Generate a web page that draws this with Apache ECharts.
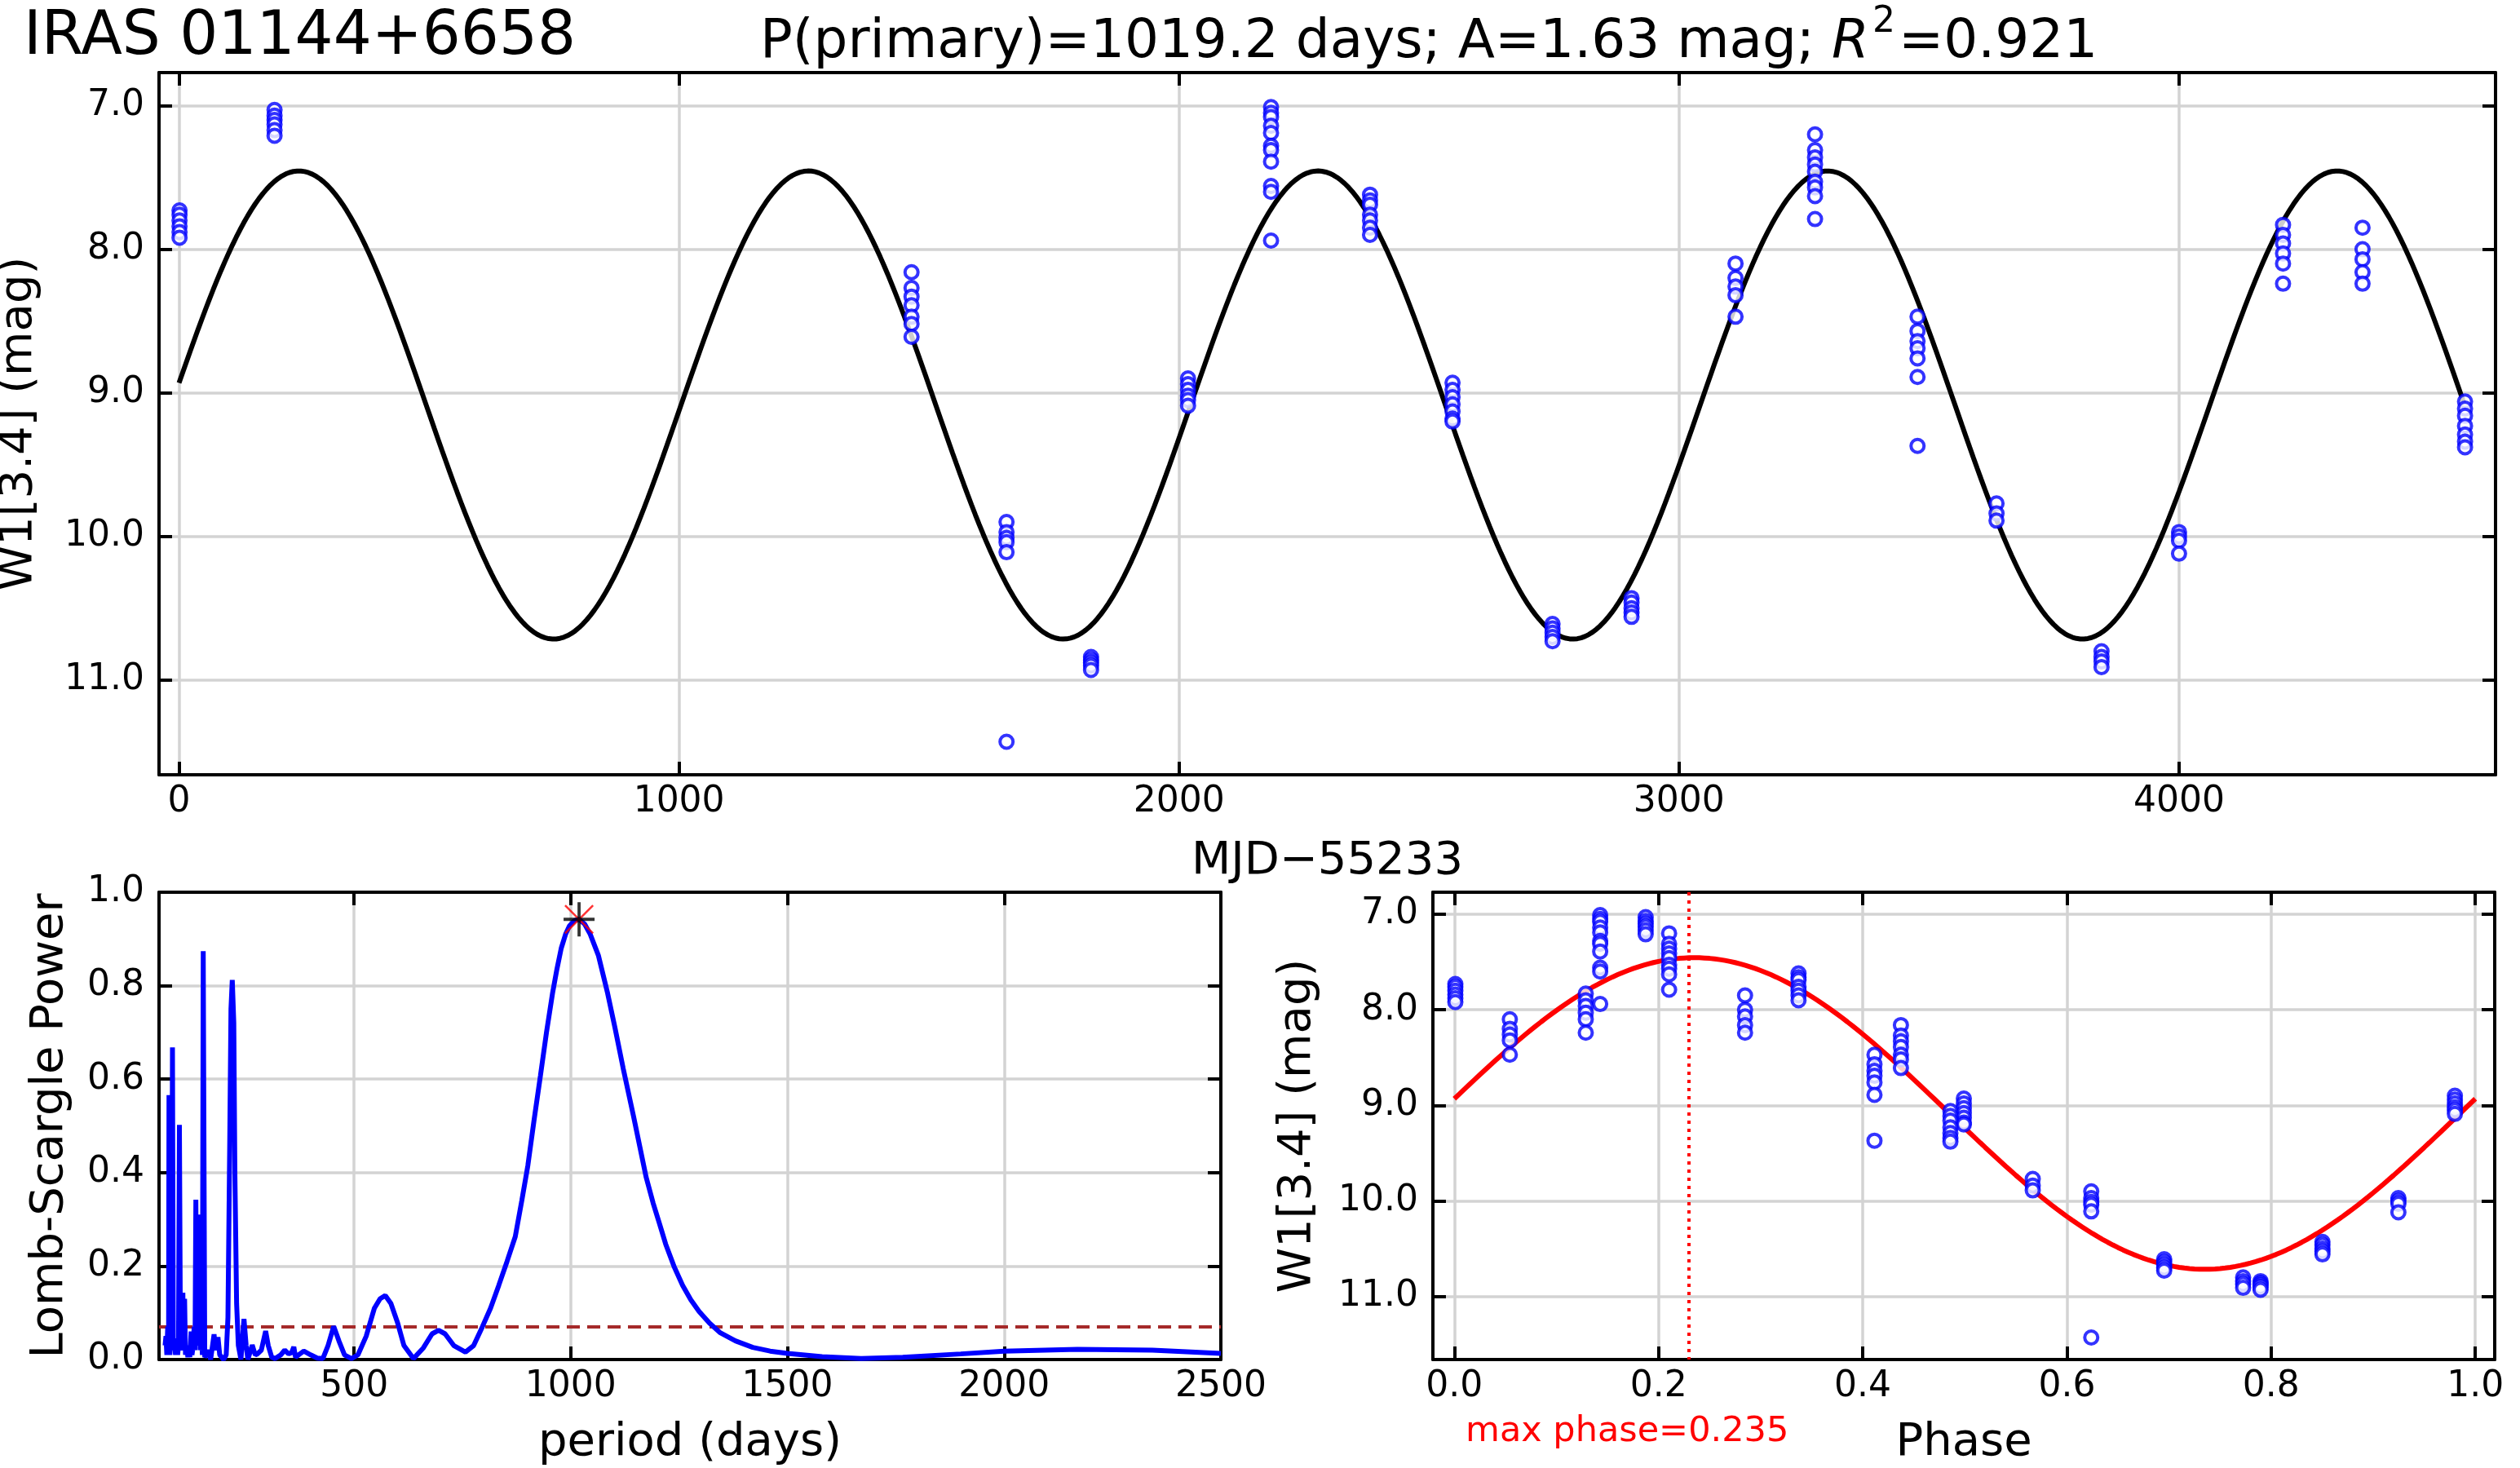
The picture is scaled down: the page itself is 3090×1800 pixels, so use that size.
<!DOCTYPE html>
<html>
<head>
<meta charset="utf-8">
<title>IRAS 01144+6658 light curve</title>
<style type="text/css">
html,body{margin:0;padding:0;background:#fff;}
#main{width:3090px;height:1800px;}
</style>
<script type="text/javascript" src="https://cdn.jsdelivr.net/npm/echarts@6.0.0/dist/echarts.min.js"></script>
</head>
<body>
<div id="main"></div>
<script type="text/javascript">
// fit parameters (from the title)
var period = 1019.2;
var amp = 1.63;
var meanMag = 9.085;
var maxPhase = 0.235;

// WISE epochs (MJD-55233) and the W1 magnitudes measured at each epoch
var epochT = [1, 191, 1465, 1655, 1824, 2018, 2184, 2382, 2547, 2747,
              2905, 3113, 3272, 3477, 3635, 3845, 4000, 4208, 4367, 4572];
var epochMags = [
  [7.73, 7.76, 7.80, 7.84, 7.88, 7.92],
  [7.03, 7.07, 7.10, 7.13, 7.17, 7.21],
  [8.16, 8.27, 8.33, 8.39, 8.47, 8.52, 8.61],
  [9.90, 9.97, 10.01, 10.04, 10.11, 11.43],
  [10.84, 10.86, 10.88, 10.90, 10.93],
  [8.90, 8.94, 8.98, 9.02, 9.05, 9.09],
  [7.01, 7.05, 7.08, 7.14, 7.19, 7.28, 7.31, 7.39, 7.56, 7.60, 7.94],
  [7.62, 7.66, 7.69, 7.76, 7.80, 7.85, 7.90],
  [8.93, 8.98, 9.03, 9.08, 9.13, 9.18, 9.20],
  [10.61, 10.64, 10.67, 10.70, 10.73],
  [10.43, 10.46, 10.50, 10.53, 10.56],
  [8.10, 8.20, 8.26, 8.32, 8.47],
  [7.20, 7.31, 7.36, 7.41, 7.46, 7.53, 7.57, 7.63, 7.79],
  [8.47, 8.57, 8.64, 8.69, 8.76, 8.89, 9.37],
  [9.77, 9.84, 9.89],
  [10.80, 10.84, 10.87, 10.91],
  [9.97, 10.00, 10.03, 10.12],
  [7.83, 7.90, 7.96, 8.03, 8.10, 8.24],
  [7.85, 8.00, 8.07, 8.16, 8.24],
  [9.06, 9.11, 9.16, 9.23, 9.29, 9.34, 9.38]
];

// Lomb-Scargle periodogram
var lsPeriod = [64, 66, 68, 70, 72, 73, 75, 77, 79, 81, 83, 85, 88, 90, 93, 95, 97, 99.5, 102, 105,
  106.5, 109, 111, 114, 116.5, 119, 121, 124, 126, 129, 131, 133, 135, 137, 139, 142, 145, 148, 150, 152,
  155.5, 159, 164, 169, 177, 180, 186, 190, 199, 205, 209, 213, 216, 219, 222.5, 225, 229, 233, 239, 246,
  251, 255, 265, 272, 277, 286, 296, 302, 310, 318, 331, 340, 349, 356, 361, 365, 375, 384, 400, 415,
  428, 440, 453, 465, 478, 494, 509, 528, 547, 560, 572, 585, 600, 615, 637, 660, 680, 695, 710, 730,
  757, 776, 796, 815, 834, 853, 872, 887, 901, 915, 930, 944, 958, 968, 978, 988, 997, 1008, 1019, 1032,
  1045, 1064, 1085, 1102, 1121, 1145, 1174, 1190, 1205, 1219, 1238, 1258, 1277, 1296, 1320, 1344, 1380, 1420,
  1460, 1500, 1580, 1670, 1766, 1900, 2000, 2169, 2342, 2500];
var lsPower = [0.03, 0.05, 0.01, 0.07, 0.02, 0.566, 0.01, 0.05, 0.02, 0.668, 0.02, 0.045, 0.01, 0.04, 0.01, 0.03, 0.502, 0.02, 0.04, 0.143,
  0.03, 0.13, 0.01, 0.03, 0.005, 0.03, 0.005, 0.06, 0.01, 0.03, 0.07, 0.02, 0.342, 0.03, 0.08, 0.31, 0.02, 0.05, 0.01, 0.874,
  0.005, 0.01, 0.02, 0.0, 0.054, 0.02, 0.048, 0.01, 0.0, 0.01, 0.09, 0.45, 0.75, 0.812, 0.72, 0.4, 0.12, 0.03, 0.0, 0.087,
  0.03, 0.0, 0.031, 0.01, 0.012, 0.02, 0.061, 0.03, 0.005, 0.002, 0.01, 0.02, 0.012, 0.015, 0.027, 0.005, 0.012, 0.018, 0.01, 0.003,
  0.002, 0.03, 0.071, 0.04, 0.01, 0.002, 0.01, 0.05, 0.11, 0.13, 0.137, 0.12, 0.08, 0.03, 0.002, 0.025, 0.055, 0.0625, 0.055, 0.03,
  0.016, 0.03, 0.07, 0.11, 0.159, 0.21, 0.263, 0.34, 0.415, 0.51, 0.607, 0.70, 0.784, 0.835, 0.88, 0.91, 0.928, 0.939, 0.942, 0.932,
  0.91, 0.864, 0.784, 0.71, 0.623, 0.52, 0.39, 0.335, 0.29, 0.247, 0.2, 0.159, 0.128, 0.103, 0.078, 0.058, 0.04, 0.026,
  0.018, 0.013, 0.006, 0.002, 0.005, 0.012, 0.018, 0.022, 0.02, 0.013];
var peakPower = 0.942;
var fapLevel = 0.065;

// build series data
var obs = [], obsPhase = [];
for (var i = 0; i < epochT.length; i++) {
  var ph = (epochT[i] / period) % 1;
  for (var j = 0; j < epochMags[i].length; j++) {
    obs.push([epochT[i], epochMags[i][j]]);
    obsPhase.push([ph, epochMags[i][j]]);
  }
}
function model(ph) { return meanMag - amp * Math.cos(2 * Math.PI * (ph - maxPhase)); }
var fitT = [], fitPhase = [];
for (var k = 0; k <= 600; k++) {
  var t = epochT[0] - 1 + k * (epochT[epochT.length - 1] - epochT[0] + 1) / 600;
  fitT.push([t, model(t / period)]);
}
for (var k = 0; k <= 200; k++) {
  fitPhase.push([k / 200, model(k / 200)]);
}
var ls = lsPeriod.map(function (p, i) { return [p, lsPower[i]]; });

var FONT = 'DejaVu Sans';
var gridColor = '#d3d3d3';

function mainAxis(o) {
  var a = {
    type: 'value',
    gridIndex: o.grid,
    position: o.pos,
    min: o.min, max: o.max,
    inverse: !!o.inverse,
    name: o.name || '',
    nameLocation: 'middle',
    nameGap: o.nameGap,
    nameRotate: o.rotate,
    nameTextStyle: {fontSize: 56, color: '#000', fontFamily: FONT},
    axisLine: {show: true, onZero: false, lineStyle: {color: '#000', width: 4}},
    axisTick: {show: true, inside: true, length: 16, lineStyle: {color: '#000', width: 4}},
    axisLabel: {show: true, fontSize: 44, color: '#000', fontFamily: FONT, margin: o.margin,
      showMinLabel: o.showMin, showMaxLabel: o.showMax, formatter: o.fmt},
    splitLine: {show: true, lineStyle: {color: gridColor, width: 3.5}}
  };
  if (o.interval) a.interval = o.interval;
  return a;
}
function frameAxis(o) {
  var a = {
    type: 'value',
    gridIndex: o.grid,
    position: o.pos,
    min: o.min, max: o.max,
    inverse: !!o.inverse,
    axisLine: {show: true, onZero: false, lineStyle: {color: '#000', width: 4}},
    axisTick: {show: true, inside: true, length: 16, lineStyle: {color: '#000', width: 4}},
    axisLabel: {show: false},
    splitLine: {show: false}
  };
  if (o.interval) a.interval = o.interval;
  return a;
}
function fmt1(v) { return v.toFixed(1); }
function fmt0(v) { return String(Math.round(v)); }

var magMin = 6.77, magMax = 11.66;

var option = {
  animation: false,
  backgroundColor: '#fff',
  textStyle: {fontFamily: FONT},
  grid: [
    {left: 195, top: 89, width: 2865, height: 861, outerBoundsMode: 'none'},
    {left: 195, top: 1094, width: 1302, height: 573, outerBoundsMode: 'none'},
    {left: 1757, top: 1094, width: 1302, height: 573, outerBoundsMode: 'none'}
  ],
  xAxis: [
    mainAxis({grid: 0, pos: 'bottom', min: -40, max: 4633, name: 'MJD\u221255233', nameGap: 78, margin: 12,
      showMin: false, showMax: false, fmt: fmt0}),
    frameAxis({grid: 0, pos: 'top', min: -40, max: 4633}),
    mainAxis({grid: 1, pos: 'bottom', min: 50, max: 2500, name: 'period (days)', nameGap: 74, margin: 12,
      showMin: false, showMax: true, fmt: fmt0}),
    frameAxis({grid: 1, pos: 'top', min: 50, max: 2500}),
    mainAxis({grid: 2, pos: 'bottom', min: -0.021, max: 1.019, name: 'Phase', nameGap: 74, margin: 12,
      showMin: false, showMax: false, fmt: fmt1}),
    frameAxis({grid: 2, pos: 'top', min: -0.021, max: 1.019})
  ],
  yAxis: [
    mainAxis({grid: 0, pos: 'left', min: magMin, max: magMax, inverse: true, name: 'W1[3.4] (mag)', nameGap: 144,
      rotate: 90, margin: 18, showMin: false, showMax: false, fmt: fmt1}),
    frameAxis({grid: 0, pos: 'right', min: magMin, max: magMax, inverse: true}),
    mainAxis({grid: 1, pos: 'left', min: 0, max: 1, interval: 0.2, name: 'Lomb-Scargle Power', nameGap: 106,
      rotate: 90, margin: 18, showMin: true, showMax: true, fmt: fmt1}),
    frameAxis({grid: 1, pos: 'right', min: 0, max: 1, interval: 0.2}),
    mainAxis({grid: 2, pos: 'left', min: magMin, max: magMax, inverse: true, name: 'W1[3.4] (mag)', nameGap: 138,
      rotate: 90, margin: 18, showMin: false, showMax: false, fmt: fmt1}),
    frameAxis({grid: 2, pos: 'right', min: magMin, max: magMax, inverse: true})
  ],
  graphic: [
    {type: 'text', left: 29, top: 10, style: {text: 'IRAS 01144+6658', font: '74px "DejaVu Sans"', fill: '#000'}},
    {type: 'text', left: 932, top: 6, style: {
      text: '{n|P(primary)=1019.2 days; A=1.63 mag; }{i|R}{s|2}{n|=0.921}',
      fill: '#000',
      rich: {
        n: {fontSize: 66, fontFamily: FONT, color: '#000', lineHeight: 80, verticalAlign: 'bottom'},
        i: {fontSize: 66, fontFamily: FONT, fontStyle: 'italic', color: '#000', lineHeight: 80, verticalAlign: 'bottom'},
        s: {fontSize: 44, fontFamily: FONT, color: '#000', lineHeight: 80, verticalAlign: 'top', padding: [0, 4, 0, 4]}
      }}},
    {type: 'text', left: 1797, top: 1734, style: {text: 'max phase=0.235', font: '43px "DejaVu Sans"', fill: '#ff0000'}}
  ],
  series: [
    {type: 'line', xAxisIndex: 0, yAxisIndex: 0, data: fitT, showSymbol: false, z: 3,
      lineStyle: {color: '#000', width: 6}},
    {type: 'scatter', xAxisIndex: 0, yAxisIndex: 0, data: obs, symbol: 'circle', symbolSize: 16, z: 4,
      itemStyle: {color: '#fff', borderColor: '#0000ff', borderWidth: 4}},
    {type: 'line', xAxisIndex: 2, yAxisIndex: 2, data: ls, showSymbol: false, z: 3,
      lineStyle: {color: '#0000ff', width: 6},
      markLine: {symbol: 'none', silent: true, label: {show: false}, z: 2,
        lineStyle: {color: '#a52a2a', type: [16, 9], width: 4}, data: [{yAxis: fapLevel}]}},
    {type: 'scatter', xAxisIndex: 2, yAxisIndex: 2, data: [[period, peakPower]], z: 5,
      symbol: 'path://M0,2 L2,0 L20,18 L38,0 L40,2 L22,20 L40,38 L38,40 L20,22 L2,40 L0,38 L18,20 Z',
      symbolSize: 36, itemStyle: {color: '#ff0000'}},
    {type: 'scatter', xAxisIndex: 2, yAxisIndex: 2, data: [[period, peakPower]], z: 6,
      symbol: 'path://M18,0 L22,0 L22,18 L40,18 L40,22 L22,22 L22,40 L18,40 L18,22 L0,22 L0,18 L18,18 Z',
      symbolSize: [38, 42], itemStyle: {color: '#000'}},
    {type: 'line', xAxisIndex: 4, yAxisIndex: 4, data: fitPhase, showSymbol: false, z: 3,
      lineStyle: {color: '#ff0000', width: 6},
      markLine: {symbol: 'none', silent: true, label: {show: false},
        lineStyle: {color: '#ff0000', type: [4, 6], width: 4}, data: [{xAxis: maxPhase}]}},
    {type: 'scatter', xAxisIndex: 4, yAxisIndex: 4, data: obsPhase, symbol: 'circle', symbolSize: 16, z: 4,
      itemStyle: {color: '#fff', borderColor: '#0000ff', borderWidth: 4}}
  ]
};

var myChart = echarts.init(document.getElementById('main'));
myChart.setOption(option);
</script>
</body>
</html>
